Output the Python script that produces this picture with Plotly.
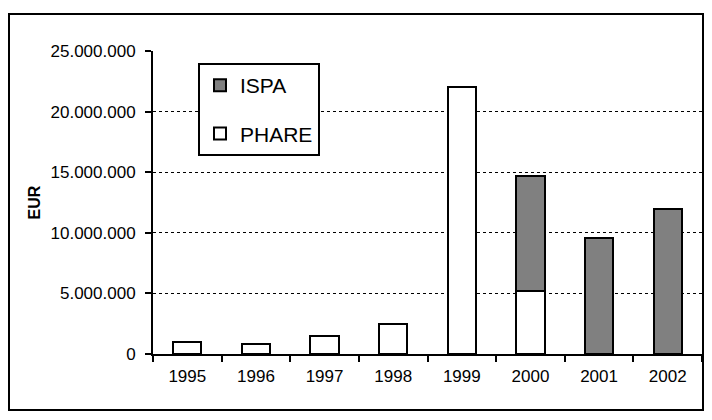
import plotly.graph_objects as go

years = ["1995", "1996", "1997", "1998", "1999", "2000", "2001", "2002"]
phare = [1000000, 800000, 1450000, 2480000, 22050000, 5200000, None, None]
ispa = [None, None, None, None, None, 9500000, 9550000, 12000000]
y_ticks = [0, 5000000, 10000000, 15000000, 20000000, 25000000]

FONT = "Arial, 'Liberation Sans', sans-serif"

OFF = 8  # page body margin
W, H = 704, 404
# plot area in screen pixels: x 153..702, y 51..354
SL, SR, ST, SB = 153, 702, 51, 354
L, T = SL - OFF, ST - OFF
R = W - (SR - OFF)
B = H - (SB - OFF)
pw, ph = SR - SL, SB - ST

def px_x(p):
    return (p - SL) / pw

def px_y(p):
    return (SB - p) / ph

fig = go.Figure()
fig.add_trace(go.Bar(
    x=years, y=phare, name="PHARE", legendgroup="p", legendrank=2,
    marker=dict(color="white", line=dict(color="black", width=2)),
))
fig.add_trace(go.Bar(
    x=years, y=ispa, name="ISPA", legendgroup="i", legendrank=1,
    marker=dict(color="#808080", line=dict(color="black", width=2)),
))

fig.update_layout(
    width=W, height=H,
    margin=dict(l=L, r=R, t=T, b=B, autoexpand=False),
    barmode="stack", bargap=0.59,
    paper_bgcolor="white", plot_bgcolor="white",
    separators=",.",
    font=dict(family=FONT, size=17, color="black"),
    showlegend=True,
    legend=dict(
        x=px_x(198), y=px_y(63), xanchor="left", yanchor="top",
        bgcolor="white", bordercolor="black", borderwidth=2,
        font=dict(size=21, family=FONT),
        traceorder="grouped", tracegroupgap=18,
        itemwidth=30,
    ),
    xaxis=dict(
        type="category", showline=True, linecolor="black", linewidth=2,
        ticks="outside", tickson="boundaries", ticklen=6, tickwidth=2,
        tickcolor="black", showgrid=False, tickfont=dict(size=17),
        ticklabelstandoff=6,
    ),
    yaxis=dict(
        range=[0, 25000000], tickvals=y_ticks, tickformat=",.0f",
        showline=True, linecolor="black", linewidth=2,
        ticks="outside", ticklen=6, tickwidth=2, tickcolor="black",
        ticklabelstandoff=6,
        showgrid=True, gridcolor="black", gridwidth=1, griddash="dot",
        zeroline=False, tickfont=dict(size=17),
        title=dict(text="<b>EUR</b>", font=dict(size=16), standoff=6),
    ),
    shapes=[dict(
        type="rect", xref="paper", yref="paper",
        x0=px_x(9), x1=px_x(703), y0=px_y(410), y1=px_y(14),
        line=dict(color="black", width=2), fillcolor="rgba(0,0,0,0)",
        layer="below",
    )],
)

fig.write_html("out.html")
